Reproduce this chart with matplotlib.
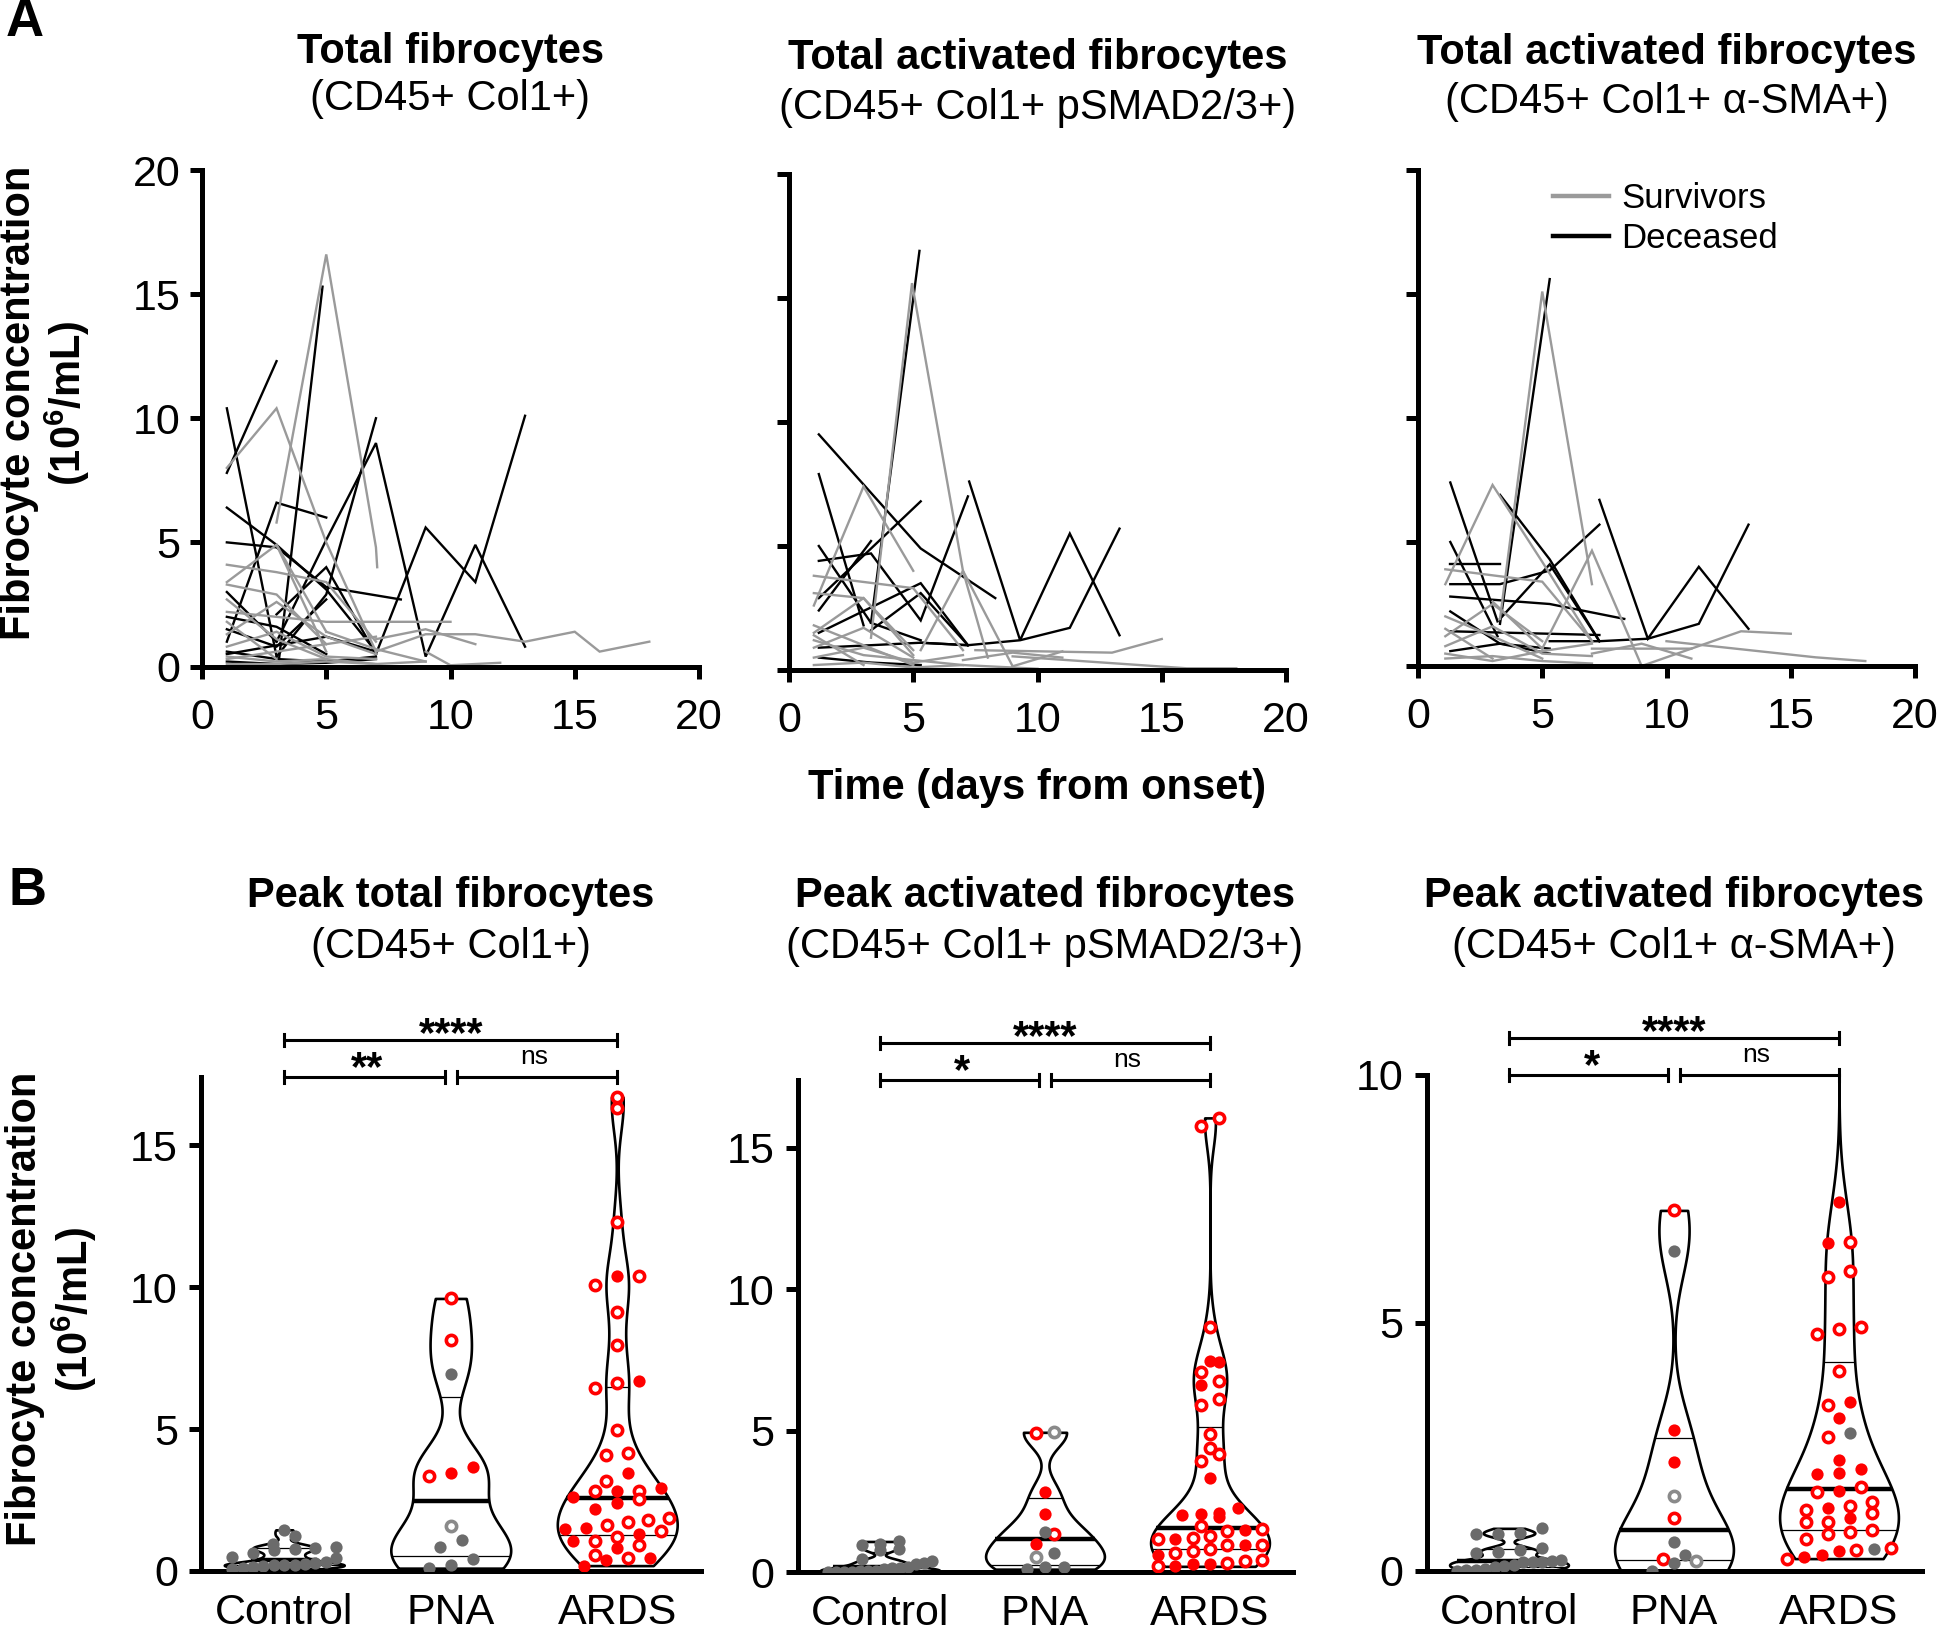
import numpy as np
import matplotlib
matplotlib.use("Agg")
import matplotlib.pyplot as plt
from matplotlib.lines import Line2D

plt.rcParams['font.family'] = ['Liberation Sans', 'DejaVu Sans']
plt.rcParams['mathtext.fontset'] = 'custom'
plt.rcParams['mathtext.rm'] = 'Liberation Sans'
plt.rcParams['mathtext.bf'] = 'Liberation Sans:bold'
plt.rcParams['mathtext.default'] = 'bf'

# ---------------- DATA ----------------
# Panel A: trajectories (days from onset, concentration 10^6/mL)
A1_deceased = [
    ([1, 3], [7.8, 12.3]),
    ([1, 3], [10.4, 0.4]),
    ([1, 3, 5, 7], [6.4, 4.9, 3.1, 0.6]),
    ([1, 3, 5, 8], [5.0, 4.8, 3.2, 2.7]),
    ([1, 3, 5], [1.0, 6.6, 6.0]),
    ([3, 5, 7], [0.4, 2.9, 10.0]),
    ([3, 5, 7, 9, 11, 13], [1.0, 5.1, 9.0, 0.4, 4.9, 0.8]),
    ([7, 9, 11, 13], [0.5, 5.6, 3.4, 10.1]),
    ([3.1, 4.85], [0.3, 15.3]),
    ([1, 3, 5], [2.0, 1.6, 0.5]),
    ([1, 3, 5, 7], [0.6, 0.3, 0.2, 0.4]),
    ([1, 3, 5, 7], [0.2, 0.1, 0.15, 0.3]),
    ([1, 3, 5], [1.5, 0.8, 2.7]),
    ([3, 5, 7], [2.1, 4.0, 0.5]),
    ([1, 3], [3.0, 1.0]),
    ([1, 5, 7], [0.5, 1.2, 0.6]),
]
A1_survivors = [
    ([1, 3, 5, 7], [8.0, 10.4, 5.0, 0.6]),
    ([3, 5, 7, 7.05], [5.8, 16.6, 4.8, 4.0]),
    ([1, 3, 5, 7], [4.1, 3.8, 3.4, 1.0]),
    ([1, 5, 10], [2.2, 1.8, 1.8]),
    ([7, 9, 11, 13, 15, 16, 18], [0.6, 1.3, 1.3, 1.0, 1.4, 0.6, 1.0]),
    ([9, 10, 12], [0.6, 0.05, 0.15]),
    ([3, 5], [4.9, 0.6]),
    ([1, 3, 5], [3.3, 2.9, 0.9]),
    ([1, 3, 5, 7], [1.3, 2.6, 1.2, 0.5]),
    ([1, 3, 5, 7], [0.8, 1.4, 0.4, 0.3]),
    ([1, 3, 5], [2.7, 1.1, 0.3]),
    ([1, 3, 5, 7], [0.3, 0.6, 0.9, 1.2]),
    ([1, 3, 5, 7, 9], [0.4, 0.2, 0.3, 0.1, 0.2]),
    ([7, 9, 11], [1.1, 1.5, 0.9]),
    ([1, 3], [1.8, 0.3]),
    ([5, 7, 9], [1.4, 0.7, 0.2]),
    ([1, 3, 5], [3.4, 4.9, 1.4]),
    ([1, 3, 5, 7], [0.1, 0.1, 0.2, 0.1]),
]
A2_deceased = [
    ([3.3, 5.25], [1.9, 16.9]),
    ([1.2, 5.3, 8.3], [9.5, 4.9, 2.9]),
    ([1.2, 3.0], [7.9, 1.8]),
    ([7.25, 9.3, 11.3, 13.3], [7.6, 1.2, 5.5, 1.4]),
    ([5.3, 7.2, 9.3, 11.3, 13.3], [1.1, 1.0, 1.2, 1.7, 5.7]),
    ([1.2, 3.3, 5.3, 7.2], [4.4, 4.7, 2.0, 7.0]),
    ([1.2, 5.3], [2.9, 6.8]),
    ([1.2, 3.3], [2.4, 5.2]),
    ([1.2, 5.3, 7.2], [1.5, 3.5, 1.0]),
    ([1.2, 3.3, 5.3], [5.0, 1.9, 1.2]),
    ([1.2, 3.3, 5.3, 7.2], [0.9, 1.0, 1.1, 1.0]),
    ([1.2, 3.3, 5.3], [0.5, 0.3, 0.2]),
    ([3.3, 5.3, 7.2], [1.6, 3.1, 1.0]),
]
A2_survivors = [
    ([1, 3, 5], [2.6, 7.4, 4.0]),
    ([3.3, 4.95, 7.0, 9.0], [1.3, 15.6, 4.0, 0.15]),
    ([5.3, 7.0, 8.0], [0.8, 4.0, 0.5]),
    ([1, 5, 7], [3.8, 3.3, 0.8]),
    ([1, 3, 5], [3.1, 2.9, 0.8]),
    ([1, 3, 5], [1.5, 2.9, 0.6]),
    ([9, 11], [0.15, 0.75]),
    ([7.5, 13, 15], [0.8, 0.7, 1.25]),
    ([9, 16, 18], [0.55, 0.07, 0.07]),
    ([1, 3, 5, 7], [1.2, 0.6, 0.4, 0.2]),
    ([1, 3, 5, 7], [0.5, 0.9, 0.3, 0.6]),
    ([1, 3, 5, 7, 10], [0.2, 0.3, 0.1, 0.2, 0.05]),
    ([1, 3, 5], [1.8, 1.0, 0.2]),
    ([7, 9, 11], [0.4, 0.7, 0.5]),
    ([1, 3, 5], [0.9, 1.7, 0.5]),
    ([1, 3], [1.4, 0.2]),
]
A3_deceased = [
    ([3.3, 5.3], [1.7, 15.6]),
    ([1.3, 3.2], [7.4, 1.8]),
    ([1.3, 3.2], [5.0, 1.2]),
    ([3.3, 5.3, 7.3], [6.9, 4.3, 1.0]),
    ([7.3, 9.25, 11.3, 13.3], [6.7, 1.1, 4.0, 1.5]),
    ([5.3, 7.3, 9.25, 11.3, 13.3], [1.0, 1.0, 1.1, 1.7, 5.7]),
    ([1.3, 3.3], [4.1, 4.1]),
    ([1.3, 3.3, 5.3, 7.3], [3.3, 3.3, 3.85, 5.7]),
    ([1.3, 5.3, 8.3], [2.8, 2.5, 1.9]),
    ([1.3, 7.3], [1.4, 1.25]),
    ([3.3, 5.3, 7.3], [1.9, 4.1, 1.0]),
    ([1.3, 3.3, 5.3], [0.6, 0.9, 0.7]),
    ([1.3, 3.3, 5.3], [2.2, 0.9, 0.5]),
]
A3_survivors = [
    ([1.1, 3.0, 5.0, 7.0], [3.3, 7.3, 4.2, 1.0]),
    ([3.3, 5.0, 7.0], [1.9, 15.1, 3.3]),
    ([1.1, 5.0, 7.0], [3.9, 3.4, 1.0]),
    ([5, 7, 9], [0.7, 4.65, 0.0]),
    ([3, 5], [2.6, 0.7]),
    ([9, 11], [0.0, 0.7]),
    ([7, 11, 13, 15], [0.7, 0.7, 1.4, 1.3]),
    ([10, 16, 18], [1.0, 0.35, 0.2]),
    ([1.1, 3, 5], [2.0, 1.2, 0.3]),
    ([1.1, 3, 5, 7], [0.8, 1.6, 0.5, 0.4]),
    ([1.1, 3, 5, 7], [0.3, 0.4, 0.2, 0.1]),
    ([1.1, 3, 5], [1.2, 2.5, 1.0]),
    ([1.1, 3, 5, 7], [0.5, 0.2, 0.6, 0.9]),
    ([7, 9, 11], [0.5, 0.9, 0.3]),
    ([1.1, 3], [1.5, 0.3]),
]
A_titles = [("Total fibrocytes", "(CD45+ Col1+)"),
            ("Total activated fibrocytes", "(CD45+ Col1+ pSMAD2/3+)"),
            ("Total activated fibrocytes", "(CD45+ Col1+ \u03b1-SMA+)")]
A_ticks = [0, 5, 10, 15, 20]

# Panel B: peak values per group; kind: gf=gray filled, go=gray open, rf=red filled, ro=red open
groups = ["Control", "PNA", "ARDS"]

B1_control = [1.45, 1.25, 0.95, 0.85, 0.82, 0.78, 0.75, 0.62, 0.5, 0.45,
              0.3, 0.28, 0.25, 0.22, 0.2, 0.2, 0.18, 0.15, 0.1, 0.08]
B1_control_kind = ["gf"] * len(B1_control)
B1_pna = [9.6, 8.14, 6.94, 3.34, 3.44, 3.67, 1.6, 1.1, 0.85, 0.42, 0.1, 0.2]
B1_pna_kind = ["ro", "ro", "gf", "ro", "rf", "rf", "go", "gf", "gf", "gf", "gf", "gf"]
B1_ards = [16.69, 16.3, 12.29, 10.39, 10.39, 10.08, 9.11, 7.96, 6.7, 6.61, 6.43, 4.97,
           4.16, 4.09, 3.46, 3.16, 2.92, 2.81, 2.81, 2.81, 2.6, 2.52, 2.39, 2.18,
           1.79, 1.74, 1.86, 1.63, 1.53, 1.42, 1.49, 1.31, 1.21, 1.07, 1.07, 0.9,
           0.82, 0.58, 0.45, 0.47, 0.38, 0.19]
B1_ards_kind = ["ro", "ro", "ro", "rf", "ro", "ro", "ro", "ro", "rf", "ro", "ro", "ro",
                "ro", "ro", "rf", "ro", "rf", "ro", "rf", "ro", "rf", "ro", "rf", "rf",
                "ro", "ro", "ro", "ro", "rf", "ro", "rf", "rf", "ro", "rf", "ro", "ro",
                "rf", "ro", "ro", "rf", "rf", "rf"]

B2_control = [1.08, 1.0, 0.95, 0.8, 0.78, 0.45, 0.38, 0.31, 0.3, 0.17,
              0.15, 0.14, 0.1, 0.05, 0.03, 0.02, 0.01, 0.01, 0.0, 0.0]
B2_control_kind = ["gf"] * len(B2_control)
B2_pna = [4.94, 4.92, 2.82, 2.05, 1.33, 1.4, 1.0, 0.66, 0.52, 0.1, 0.17, 0.17]
B2_pna_kind = ["go", "ro", "rf", "rf", "ro", "gf", "rf", "gf", "go", "gf", "gf", "gf"]
B2_ards = [16.06, 15.77, 8.65, 7.43, 7.47, 7.08, 6.77, 6.62, 6.13, 5.89, 4.89, 4.39,
           4.18, 3.91, 3.31, 2.26, 2.03, 2.05, 2.08, 1.94, 1.61, 1.52, 1.49, 1.45,
           1.15, 1.19, 1.28, 1.17, 0.94, 0.82, 0.96, 0.96, 0.73, 0.68, 0.61, 0.41,
           0.27, 0.28, 0.38, 0.2, 0.31, 0.21]
B2_ards_kind = ["ro", "ro", "ro", "rf", "rf", "ro", "ro", "rf", "ro", "ro", "ro", "ro",
                "ro", "ro", "rf", "rf", "rf", "rf", "rf", "rf", "ro", "ro", "rf", "ro",
                "ro", "ro", "ro", "rf", "ro", "ro", "rf", "ro", "ro", "ro", "rf", "ro",
                "rf", "rf", "ro", "ro", "ro", "rf"]

B3_control = [0.86, 0.76, 0.75, 0.74, 0.46, 0.42, 0.38, 0.37, 0.22, 0.2,
              0.19, 0.19, 0.18, 0.12, 0.1, 0.08, 0.05, 0.03, 0.02, 0.01]
B3_control_kind = ["gf"] * len(B3_control)
B3_pna = [7.27, 6.46, 2.85, 2.19, 1.52, 1.06, 0.58, 0.32, 0.24, 0.17, 0.21, 0.0]
B3_pna_kind = ["ro", "gf", "rf", "rf", "go", "ro", "gf", "gf", "ro", "gf", "go", "gf"]
B3_ards = [15.9, 15.1, 7.43, 6.64, 6.61, 6.04, 5.93, 4.91, 4.87, 4.77, 4.04, 3.35, 3.4,
           3.08, 2.79, 2.7, 2.23, 1.97, 2.05, 1.96, 1.69, 1.6, 1.32, 1.27, 1.39,
           1.62, 1.16, 1.22, 0.98, 1.06, 0.83, 0.98, 0.79, 0.74, 0.64, 0.45, 0.42,
           0.46, 0.4, 0.28, 0.32, 0.25]
B3_ards_kind = ["rf", "ro", "rf", "ro", "rf", "ro", "ro", "ro", "ro", "ro", "ro", "ro", "rf",
                "rf", "gf", "ro", "rf", "rf", "rf", "rf", "ro", "ro", "ro", "rf", "ro",
                "rf", "ro", "ro", "ro", "rf", "ro", "ro", "ro", "ro", "ro", "gf", "ro",
                "ro", "rf", "rf", "rf", "ro"]

B_titles = [("Peak total fibrocytes", "(CD45+ Col1+)"),
            ("Peak activated fibrocytes", "(CD45+ Col1+ pSMAD2/3+)"),
            ("Peak activated fibrocytes", "(CD45+ Col1+ \u03b1-SMA+)")]
B_sig = [("****", "**", "ns"), ("****", "*", "ns"), ("****", "*", "ns")]
B_ylims = [17.4, 17.4, 10]
B_yticks = [[0, 5, 10, 15], [0, 5, 10, 15], [0, 5, 10]]

# ---------------- FIGURE ----------------
W, H = 1946, 1636
fig = plt.figure(figsize=(W / 100, H / 100), dpi=100)


def add_ax(l, r, t, b):
    return fig.add_axes([l / W, 1 - b / H, (r - l) / W, (b - t) / H])


def style(ax):
    for s in ("top", "right"):
        ax.spines[s].set_visible(False)
    for s in ("left", "bottom"):
        ax.spines[s].set_linewidth(3.6)
    ax.tick_params(width=3.6, length=8.6, direction="out", labelsize=31)


GRAY_LINE = "#9a9a9a"
a_boxes = [(202, 699, 170, 666.5), (789, 1286, 174, 670), (1418, 1915, 170, 666)]
a_data = [(A1_deceased, A1_survivors), (A2_deceased, A2_survivors), (A3_deceased, A3_survivors)]
a_title_y = [(52, 99), (58, 108), (53, 102)]

for i, (box, (dec, sur)) in enumerate(zip(a_boxes, a_data)):
    ax = add_ax(*box)
    style(ax)
    for d, v in dec:
        ax.plot(d, v, color="black", lw=1.7, solid_joinstyle="miter")
    for d, v in sur:
        ax.plot(d, v, color=GRAY_LINE, lw=1.7, solid_joinstyle="miter")
    ax.set_xlim(0, 20)
    ax.set_ylim(0, 20)
    ax.set_xticks(A_ticks)
    ax.set_yticks(A_ticks)
    ax.tick_params(axis="x", pad=14)
    ax.tick_params(axis="y", pad=7)
    if i > 0:
        ax.tick_params(axis="y", labelleft=False)
    cx = (box[0] + box[1]) / 2
    fig.text(cx / W, 1 - a_title_y[i][0] / H, A_titles[i][0], ha="center", va="center",
             fontsize=30, fontweight="bold")
    fig.text(cx / W, 1 - a_title_y[i][1] / H, A_titles[i][1], ha="center", va="center",
             fontsize=30)
    if i == 2:
        handles = [Line2D([], [], color=GRAY_LINE, lw=3.2), Line2D([], [], color="black", lw=3.2)]
        ax.legend(handles, ["Survivors", "Deceased"], loc="upper left",
                  bbox_to_anchor=(0.272, 0.975), frameon=False, fontsize=25,
                  handlelength=1.6, handletextpad=0.35, labelspacing=0.2,
                  borderpad=0, borderaxespad=0)

fig.text(1037 / W, 1 - 788 / H, "Time (days from onset)", ha="center", va="center",
         fontsize=30, fontweight="bold")


def violin(ax, pos, vals, width=0.72, bwf=0.5):
    v = np.asarray(vals, float)
    lo, hi = v.min(), v.max()
    ys = np.linspace(lo, hi, 400)
    bw = bwf * v.std(ddof=1) * len(v) ** (-0.2)
    dens = np.exp(-0.5 * ((ys[:, None] - v[None, :]) / bw) ** 2).sum(1)
    half = dens / dens.max() * width / 2
    ax.fill_betweenx(ys, pos - half, pos + half, facecolor="white", edgecolor="black",
                     lw=1.9, zorder=2)
    q1, q2, q3 = np.percentile(v, [25, 50, 75], method="weibull")
    for q, lw in ((q1, 0.9), (q2, 3.2), (q3, 0.9)):
        hq = np.interp(q, ys, half)
        ax.plot([pos - hq, pos + hq], [q, q], color="black", lw=lw, zorder=3,
                solid_capstyle="butt")


def swarm_x(vals, center, d, row_h, maxspan):
    vals = np.asarray(vals, float)
    order = np.argsort(vals, kind="stable")
    xs = np.zeros(len(vals))
    rows, cur = [], [order[0]]
    for idx in order[1:]:
        if vals[idx] - vals[cur[0]] > row_h:
            rows.append(cur)
            cur = [idx]
        else:
            cur.append(idx)
    rows.append(cur)
    for row in rows:
        k = len(row)
        step = d if k == 1 else min(d, maxspan / (k - 1))
        for j, idx in enumerate(row):
            xs[idx] = center + (j - (k - 1) / 2) * step
    return xs


MSTYLE = {
    "gf": dict(ms=8.8, mfc="#6b6b6b", mec="none"),
    "go": dict(ms=7.4, mfc="white", mec="#8a8a8a", mew=2.6),
    "rf": dict(ms=8.8, mfc="#ff0000", mec="none"),
    "ro": dict(ms=7.4, mfc="white", mec="#ff0000", mew=2.6),
}

b_boxes = [(201, 700.5, 1077, 1571), (797.5, 1292.5, 1080, 1572), (1426.5, 1921.5, 1075, 1571)]
b_data = [
    [(B1_control, B1_control_kind), (B1_pna, B1_pna_kind), (B1_ards, B1_ards_kind)],
    [(B2_control, B2_control_kind), (B2_pna, B2_pna_kind), (B2_ards, B2_ards_kind)],
    [(B3_control, B3_control_kind), (B3_pna, B3_pna_kind), (B3_ards, B3_ards_kind)],
]
spacing_px = [22, 18.5, 22]

for i, (box, gdata) in enumerate(zip(b_boxes, b_data)):
    ax = add_ax(*box)
    style(ax)
    ax.set_xlim(0.5, 3.5)
    ax.set_ylim(0, B_ylims[i])
    ax.set_yticks(B_yticks[i])
    ax.set_xticks([1, 2, 3])
    ax.set_xticklabels(groups)
    ax.tick_params(axis="x", length=0, pad=16)
    ax.tick_params(axis="y", pad=8)
    px_x = (box[1] - box[0]) / 3.0
    px_y = (box[3] - box[2]) / B_ylims[i]
    for g, (vals, kinds) in enumerate(gdata):
        pos = g + 1
        violin(ax, pos, vals)
        xs = swarm_x(vals, pos, spacing_px[i] / px_x, 11 / px_y, 104 / px_x)
        for x, y, k in zip(xs, vals, kinds):
            ax.plot([x], [y], marker="o", ls="none", zorder=4, **MSTYLE[k])
    # significance brackets
    tr = ax.get_xaxis_transform()
    cap = 0.012
    def bracket(x1, x2, y):
        ax.plot([x1, x2], [y, y], color="black", lw=2.2, transform=tr, clip_on=False)
        for x in (x1, x2):
            ax.plot([x, x], [y - cap, y + cap], color="black", lw=2.2, transform=tr,
                    clip_on=False)
    bracket(1, 3, 1.075)
    bracket(1, 1.965, 1.0)
    bracket(2.035, 3, 1.0)
    s_all, s_left, s_right = B_sig[i]
    ax.text(2, 1.063, s_all, transform=tr, ha="center", va="baseline", fontsize=30,
            fontweight="bold")
    ax.text(1.5, 0.993, s_left, transform=tr, ha="center", va="baseline", fontsize=30,
            fontweight="bold")
    ax.text(2.5, 1.027, s_right, transform=tr, ha="center", va="baseline", fontsize=19)
    cx = (box[0] + box[1]) / 2
    fig.text(cx / W, 1 - 896 / H, B_titles[i][0], ha="center", va="center",
             fontsize=30, fontweight="bold")
    fig.text(cx / W, 1 - 947 / H, B_titles[i][1], ha="center", va="center", fontsize=30)

ylab = "Fibrocyte concentration\n(10$^6$/mL)"
fig.text(45.5 / W, 1 - 403 / H, ylab, rotation=90, ha="center", va="center",
         fontsize=30, fontweight="bold", linespacing=1.1, multialignment="center")
fig.text(52 / W, 1 - 1309 / H, ylab, rotation=90, ha="center", va="center",
         fontsize=30, fontweight="bold", linespacing=1.1, multialignment="center")
fig.text(25 / W, 1 - 22 / H, "A", ha="center", va="center", fontsize=38, fontweight="bold")
fig.text(27 / W, 1 - 891 / H, "B", ha="center", va="center", fontsize=38, fontweight="bold")

fig.savefig("out.png", dpi=100, facecolor="white")
